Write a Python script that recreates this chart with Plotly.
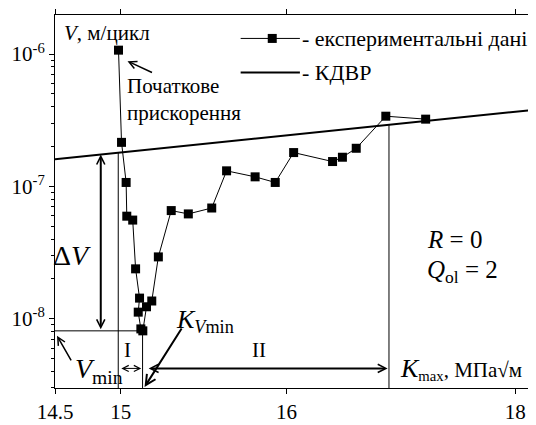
import numpy as np
import plotly.graph_objects as go

# ---- data ----
k_exp = [14.983, 15.006, 15.041, 15.046, 15.091, 15.113, 15.143, 15.133, 15.153, 15.168,
         15.196, 15.236, 15.286, 15.384, 15.514, 15.692, 15.805, 16.022, 16.175, 16.315,
         16.611, 16.686, 16.791, 17.016, 17.319]
v_exp = [1.07e-6, 2.15e-7, 1.07e-7, 5.95e-8, 5.56e-8, 2.38e-8, 1.43e-8, 1.12e-8, 8.37e-9, 8.09e-9,
         1.23e-8, 1.36e-8, 2.93e-8, 6.56e-8, 6.19e-8, 6.86e-8, 1.31e-7, 1.18e-7, 1.07e-7, 1.80e-7,
         1.54e-7, 1.66e-7, 1.94e-7, 3.39e-7, 3.22e-7]
k_kdvr = [14.5, 18.105]
v_kdvr = [1.60e-7, 3.75e-7]

k_first = 14.981     # boundary at start of stage I
k_vmin = 15.166      # K_Vmin
k_max = 17.04        # K_max
k_dv = 14.848        # position of the ΔV arrow

x_tickvals = [14.5, 15.0, 16.26, 18.0]
x_ticktext = ["14.5", "15", "16", "18"]
y_tickvals = [1e-8, 1e-7, 1e-6]
y_ticktext = ["10<sup>-8</sup>", "10<sup>-7</sup>", "10<sup>-6</sup>"]
y_minor = [m * 10.0 ** e for e in (-9, -8, -7) for m in range(2, 10)]

x_range = [14.5, 18.105]
y_range_log = [-8.524, -5.705]

FONT = "Liberation Serif"


def kdvr_at(k):
    return 10 ** np.interp(k, k_kdvr, np.log10(v_kdvr))


v_min = min(v_exp)
y_bot = 10 ** y_range_log[0]

fig = go.Figure()
line_style = dict(color="black", width=1)

# reference lines
fig.add_trace(go.Scatter(x=[k_first, k_first], y=[y_bot, kdvr_at(k_first)], mode="lines",
                         line=line_style, showlegend=False, hoverinfo="skip"))
fig.add_trace(go.Scatter(x=[x_range[0], k_vmin], y=[v_min, v_min], mode="lines",
                         line=line_style, showlegend=False, hoverinfo="skip"))
fig.add_trace(go.Scatter(x=[k_vmin, k_vmin], y=[y_bot, v_min], mode="lines",
                         line=line_style, showlegend=False, hoverinfo="skip"))
fig.add_trace(go.Scatter(x=[k_max, k_max], y=[y_bot, kdvr_at(k_max)], mode="lines",
                         line=line_style, showlegend=False, hoverinfo="skip"))

# KDVR line
fig.add_trace(go.Scatter(x=k_kdvr, y=v_kdvr, mode="lines", line=dict(color="black", width=2),
                         showlegend=False))
# experimental data
fig.add_trace(go.Scatter(x=k_exp, y=v_exp, mode="lines+markers",
                         line=dict(color="black", width=1),
                         marker=dict(symbol="square", size=9, color="black"),
                         showlegend=False))

ann = []


def text(x, y, s, size=20, xanchor="center", yanchor="middle", align="center"):
    ann.append(dict(xref="paper", yref="paper", x=(x - 55) / 480, y=(391 - y) / 382, text=s,
                    showarrow=False, xanchor=xanchor, yanchor=yanchor, align=align,
                    font=dict(family=FONT, size=size, color="black")))


# manual legend
shapes = [
    dict(type="line", xref="paper", yref="paper", x0=(243 - 55) / 480, x1=(303 - 55) / 480,
         y0=(391 - 33) / 382, y1=(391 - 33) / 382, line=dict(color="black", width=1)),
    dict(type="rect", xref="paper", yref="paper", xsizemode="pixel", ysizemode="pixel",
         xanchor=(275 - 55) / 480, yanchor=(391 - 33) / 382, x0=-4.5, x1=4.5, y0=-4.5, y1=4.5,
         fillcolor="black", line=dict(width=0)),
    dict(type="line", xref="paper", yref="paper", x0=(243 - 55) / 480, x1=(303 - 55) / 480,
         y0=(391 - 68) / 382, y1=(391 - 68) / 382, line=dict(color="black", width=2)),
]
text(303, 33, "- експериментальні дані", 22, xanchor="left")
text(303, 68, "- КДВР", 22, xanchor="left")

text(62, 27, "<i>V</i>, м/цикл", 21, xanchor="left")
text(126, 96, "Початкове<br>прискорення", 21, xanchor="left", align="left")
text(72, 255, "Δ<i>V</i>", 28)
text(73, 373, "<i>V</i><sub>min</sub>", 28, xanchor="left")
text(128, 352, "I", 21)
text(262, 352, "II", 21)
text(175, 322, "<i>K</i><sub><i>V</i>min</sub>", 26, xanchor="left")
text(402, 372, "<span style='font-size:26px'><i>K</i></span><sub>max</sub>, МПа√м", 21, xanchor="left")
text(430, 239, "<i>R</i> = 0", 25, xanchor="left")
text(430, 272, "<i>Q</i><sub>ol</sub> = 2", 25, xanchor="left")


def arrow(x, y, ax, ay, width=1, both=False, xshift=0, yshift=0, data_tail=False, size=1.0):
    d = dict(x=x, y=y, xref="x", yref="y", ax=ax, ay=ay, text="", showarrow=True,
             arrowhead=5, arrowsize=size, arrowwidth=width, arrowcolor="black",
             xshift=xshift, yshift=yshift)
    if data_tail:
        d.update(axref="x", ayref="y")
    if both:
        d.update(arrowside="end+start", startarrowhead=5, startarrowsize=size)
    ann.append(d)


# arrow to first point
arrow(k_exp[0], np.log10(v_exp[0]), 26, 12, width=1.5, xshift=9, yshift=-11)
# ΔV double arrow
arrow(k_dv, np.log10(kdvr_at(k_dv)), k_dv, np.log10(v_min), width=2, both=True, data_tail=True, size=0.8)
# Vmin arrow
arrow(x_range[0], np.log10(v_min), 15, 26, width=1.5, xshift=2, yshift=-5)
# K_Vmin arrow
arrow(k_vmin, y_range_log[0], 38, -60, width=2, xshift=2, yshift=1)
# stage I / II arrows
y_stage = -8.376
arrow(k_vmin - 0.01, y_stage, k_first + 0.012, y_stage, width=1, both=True, data_tail=True, size=1.2)
arrow(k_max - 0.01, y_stage, k_vmin + 0.035, y_stage, width=2, both=True, data_tail=True, size=0.8)

# the page body has an 8px margin, so the figure is 8px smaller and shifted
fig.update_layout(
    width=528, height=417,
    margin=dict(l=47, r=1, t=1, b=34),
    paper_bgcolor="white", plot_bgcolor="white",
    font=dict(family=FONT, size=20, color="black"),
    showlegend=False,
    annotations=ann, shapes=shapes,
    xaxis=dict(range=x_range, tickmode="array", tickvals=x_tickvals, ticktext=x_ticktext,
               showgrid=False, zeroline=False, showline=True, linecolor="black", linewidth=1,
               mirror="ticks", ticks="outside", ticklen=5, tickcolor="black",
               tickfont=dict(family=FONT, size=21, color="black")),
    yaxis=dict(type="log", range=y_range_log, tickmode="array", tickvals=y_tickvals,
               ticktext=y_ticktext, showgrid=False, zeroline=False, showline=True,
               linecolor="black", linewidth=1, mirror="ticks", ticks="outside", ticklen=5,
               tickcolor="black", tickfont=dict(family=FONT, size=21, color="black"),
               minor=dict(tickmode="array", tickvals=y_minor, ticks="outside", ticklen=3,
                          tickcolor="black", showgrid=False)),
)

fig.write_html("out.html")
